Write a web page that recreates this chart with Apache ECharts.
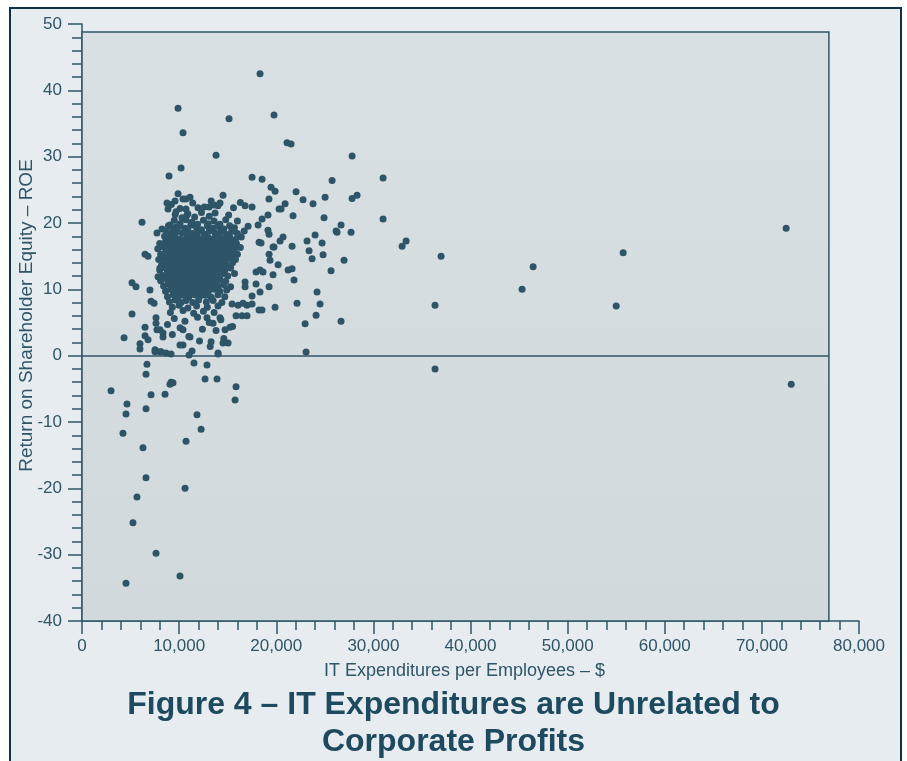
<!DOCTYPE html>
<html>
<head>
<meta charset="utf-8">
<script src="https://cdn.jsdelivr.net/npm/echarts@6/dist/echarts.min.js"></script>
<style>
  html, body { margin: 0; padding: 0; background: #ffffff; }
  #frame { position: absolute; left: 9px; top: 7px; width: 893px; height: 800px; box-sizing: border-box;
           border: 2.5px solid #0e3346; background: #e6ecef; }
  #chart { position: absolute; left: 0; top: 0; width: 907px; height: 761px; }
</style>
</head>
<body>
<div id="frame"></div>
<div id="chart"></div>
<script>
// ---------------- DATA (IT expenditure per employee $, ROE %) ----------------
const titleText = 'Figure 4 \u2013 IT Expenditures are Unrelated to\nCorporate Profits';
const xAxisName = 'IT Expenditures per Employees \u2013 $';
const yAxisName = 'Return on Shareholder Equity \u2013 ROE';
const xRange = [0, 80000, 10000];
const yRange = [-40, 50, 10];
const panelExtent = [[0, -40], [76900, 48.8]];

const upperPoints = [
  [18330,42.5],[9890,37.3],[15140,35.7],[19770,36.3],[10400,33.6],[21110,32.1],[21520,31.9],
  [13800,30.2],[10200,28.3],[8960,27.1],[17510,26.9],[18540,26.6],[19460,25.4],[19880,24.8],
  [22040,24.7],[19250,23.6],[25750,26.4],[27810,30.1]
];

const topClusterPoints = [
  [9200,22.8],[10100,22.2],[11400,23.0],[12600,22.4],[13300,23.3],[14000,22.6],[15600,22.3],
  [16300,23.1],[10700,23.6],[8750,23.0],[9580,23.3],[10400,23.6],[11120,23.9],[9890,24.4],
  [14520,24.2],[11950,22.3],[13080,22.4],[13590,22.7],[14210,23.0],[16790,22.6],[17510,22.4],
  [8860,22.1],[9680,21.7],[10810,21.2],[10710,22.1],[9060,19.7],[9680,19.4],[7720,18.5],
  [8240,19.1],[11430,19.7],[6180,20.1]
];

const clusterPoints = [
  [9600,21.3],[10300,20.8],[10900,21.4],[11600,20.9],[12300,21.6],[13100,21.0],[13700,21.5],[15100,21.2],
  [9500,20.4],[10100,19.9],[10700,20.5],[11300,20.1],[11900,19.8],[12500,20.4],[13000,19.9],[13600,20.3],[14200,19.8],[14800,20.5],[16000,20.3],
  [8900,19.6],[9400,19.1],[10000,19.5],[10600,19.2],[11200,19.7],[11800,19.3],[12300,19.0],[12900,19.6],[13500,19.2],[14000,19.5],[14600,19.1],[15200,19.6],[15700,19.3],[17100,19.5],
  [8700,18.8],[9200,18.3],[9800,18.7],[10300,18.5],[10900,18.9],[11400,18.4],[12000,18.7],[12600,18.3],[13100,18.8],[13700,18.5],[14300,18.8],[14800,18.3],[15400,18.7],[16000,18.4],[16700,18.8],
  [8500,18.0],[9100,17.6],[9600,17.9],[10200,17.5],[10800,18.0],[11300,17.7],[11900,17.9],[12400,17.5],[13000,17.8],[13500,17.6],[14100,18.0],[14700,17.7],[15200,17.9],[15800,17.5],[16400,17.9],
  [8000,16.9],[8600,17.2],[9100,16.8],[9700,17.1],[10300,16.8],[10800,17.2],[11400,16.9],[11900,17.1],[12500,16.8],[13100,17.2],[13600,16.9],[14200,17.1],[14800,16.8],[15300,17.2],[15900,16.9],
  [7800,16.1],[8400,16.4],[8900,16.0],[9500,16.3],[10100,16.0],[10600,16.4],[11200,16.1],[11700,16.3],[12300,16.0],[12800,16.4],[13400,16.1],[14000,16.3],[14500,16.0],[15100,16.4],[15700,16.1],[16300,16.3],
  [8100,15.3],[8600,15.6],[9200,15.2],[9800,15.5],[10300,15.2],[10900,15.6],[11500,15.3],[12000,15.5],[12600,15.2],[13100,15.6],[13700,15.3],[14300,15.5],[14800,15.2],[15400,15.6],[16000,15.3],
  [7900,14.5],[8500,14.8],[9000,14.4],[9600,14.7],[10200,14.4],[10700,14.8],[11300,14.5],[11800,14.7],[12400,14.4],[12900,14.8],[13500,14.5],[14100,14.7],[14600,14.4],[15200,14.8],[15800,14.5],
  [8200,13.7],[8700,14.0],[9300,13.6],[9900,13.9],[10400,13.6],[11000,14.0],[11500,13.7],[12100,13.9],[12700,13.6],[13200,14.0],[13800,13.7],[14400,13.9],[14900,13.6],[15500,14.0],
  [8000,12.9],[8600,13.2],[9100,12.8],[9700,13.1],[10200,12.8],[10800,13.2],[11300,12.9],[11900,13.1],[12400,12.8],[13000,13.2],[13600,12.9],[14100,13.1],[14700,12.8],[15300,13.2],
  [8300,12.1],[8800,12.4],[9400,12.0],[10000,12.3],[10500,12.0],[11100,12.4],[11600,12.1],[12200,12.3],[12700,12.0],[13300,12.4],[13900,12.1],[14400,12.3],[15000,12.0],[15700,12.4],
  [8100,11.3],[8700,11.6],[9200,11.2],[9800,11.5],[10300,11.2],[10900,11.6],[11400,11.3],[12000,11.5],[12500,11.2],[13100,11.6],[13700,11.3],[14200,11.5],[14800,11.2],
  [8400,10.5],[9000,10.8],[9500,10.4],[10100,10.7],[10600,10.4],[11200,10.8],[11700,10.5],[12300,10.7],[12800,10.4],[13400,10.8],[14000,10.5],[14600,10.7],[15300,10.4],
  [8600,9.7],[9100,10.0],[9700,9.6],[10200,9.9],[10800,9.6],[11300,10.0],[11900,9.7],[12400,9.9],[13000,9.6],[13600,10.0],[14200,9.7],[14900,9.9],
  [8800,8.9],[9400,9.2],[9900,8.8],[10500,9.1],[11000,8.8],[11600,9.2],[12100,8.9],[12700,9.1],[13300,8.8],[14000,9.2],[14700,8.9],
  [9000,8.1],[9600,8.4],[10200,8.0],[10700,8.3],[11400,8.0],[12000,8.4],[12800,8.1],[13500,8.3],[14400,8.0],
  [9300,7.3],[10000,7.6],[10900,7.2],[11800,7.5],[12900,7.3],[14000,7.5],
  [9100,6.5],[10400,6.8],[11500,6.4],[12500,6.7],[13600,6.5],
  [8030,13.2],[7830,11.9]
];

const coreFillPoints = [
  [9400,17.3],[10000,17.5],[10500,17.2],[11100,17.6],[11600,17.4],[12200,17.2],[12700,17.5],[13300,17.3],[13900,17.6],[14500,17.2],[15000,17.4],
  [8700,16.6],[9300,16.8],[9800,16.5],[10400,16.7],[10900,16.4],[11500,16.8],[12000,16.6],[12600,16.4],[13100,16.7],[13700,16.5],[14300,16.8],[14900,16.5],[15500,16.7],
  [8900,15.9],[9500,15.7],[10000,16.0],[10600,15.8],[11200,15.6],[11700,15.9],[12300,15.7],[12800,16.0],[13400,15.8],[14000,15.6],[14600,15.9],[15100,15.7],
  [8800,15.0],[9300,14.9],[9900,15.1],[10500,14.9],[11000,15.2],[11600,15.0],[12100,14.8],[12700,15.1],[13200,14.9],[13800,15.2],[14400,15.0],[15000,14.9],[15500,15.1],
  [8600,14.2],[9200,14.1],[9700,14.3],[10300,14.1],[10800,14.3],[11400,14.2],[11900,14.0],[12500,14.3],[13000,14.1],[13600,14.2],[14200,14.0],[14800,14.3],
  [8900,13.4],[9400,13.3],[10000,13.5],[10600,13.3],[11100,13.5],[11700,13.4],[12200,13.2],[12800,13.5],[13400,13.3],[13900,13.5],[14500,13.4],
  [8800,12.6],[9300,12.5],[9900,12.7],[10400,12.5],[11000,12.7],[11500,12.6],[12100,12.4],[12600,12.7],[13200,12.5],[13800,12.7],[14400,12.6],
  [9000,11.8],[9500,11.9],[10100,11.7],[10600,11.9],[11200,11.8],[11700,11.6],[12300,11.9],[12800,11.7],[13400,11.9],[14000,11.8],
  [8900,11.0],[9400,10.9],[10000,11.1],[10500,10.9],[11100,11.1],[11600,11.0],[12200,10.8],[12700,11.1],[13300,10.9],
  [9300,10.2],[9800,10.3],[10400,10.1],[10900,10.3],[11500,10.2],[12000,10.0],[12600,10.3],[13200,10.1],
  [9500,9.4],[10100,9.5],[10600,9.3],[11200,9.5],[11800,9.4],[12400,9.3]
];

const lowerPoints = [
  [9500,5.6],[10600,5.2],[11900,5.8],[13100,5.0],[14300,5.4],[8800,4.7],[10100,4.2],[12400,4.0],
  [13800,3.8],[9300,3.2],[11000,2.9],[12100,2.2],[14600,2.6],[10400,1.6],[13200,1.4],[15500,4.4],
  [12870,5.7],[13490,4.9],[14210,5.7],[14730,3.9],[13290,2.1],[14520,1.9],[15040,1.9],[14010,0.4],
  [10400,3.9],[11120,2.8],[10090,1.6],[15240,4.3],[6490,4.3],[7620,4.9],[8340,2.8],[8030,3.9],
  [6490,15.3],[6800,15.0],[5150,11.0],[5560,10.4],[7000,9.9],[7110,8.2],[7420,7.9],[7620,5.7],
  [5150,6.3],[4330,2.7],[5970,1.8],[5970,1.0],[6490,3.0],[6800,2.4],[7520,0.9],[8140,0.6],
  [8650,0.4],[7720,3.9],[8340,3.4],[9170,0.25],[11020,0.1],[11330,0.7]
];

const rightPoints = [
  [16990,7.6],[17510,7.8],[15860,6.0],[16480,6.0],[16990,6.0],[15450,7.8],[16070,7.6],[16580,7.9],
  [18330,12.9],[18640,12.6],[17920,12.6],[16790,11.1],[16790,10.4],[18430,17.0],[18230,17.1],
  [19770,16.4],[19260,18.3],[19150,18.9],[18540,20.6],[18130,19.7],[19150,21.2],[18330,9.6],
  [17920,10.8],[17510,9.0],[18230,6.9],[18530,6.9],[19880,7.3],[20190,13.7],[19670,16.4],
  [19260,15.3],[19360,14.4],[19670,12.2],[19260,10.4],[20700,17.9],[20390,17.3],[21220,12.9],
  [21630,13.1],[21830,11.4],[21630,16.5],[20290,22.1],[20490,22.1],[21730,21.1],[20910,22.9],
  [22760,23.5],[23790,22.9],[25030,23.9],[27810,23.7],[28320,24.2],[24920,20.8],[26670,19.7],
  [26160,18.8],[26260,18.6],[27700,18.6],[24000,18.2],[23170,17.3],[24720,17.0],[23380,15.8],
  [24820,15.2],[23690,14.6],[26980,14.4],[25640,12.8],[24200,9.6],[24510,7.8],[22140,7.9],
  [24100,6.1],[22970,4.8],[26670,5.2],[23070,0.55],
  [31000,26.8],[31000,20.6],[33370,17.3],[32960,16.5],[36970,15.0],[36350,7.6],[36350,-2.0],
  [46450,13.4],[45310,10.0],[55720,15.5],[55000,7.5],[72500,19.2],[73020,-4.3]
];

const negativePoints = [
  [6690,-1.3],[6590,-2.8],[9170,-4.0],[9370,-4.1],[9060,-4.3],[2990,-5.3],[12670,-3.5],[13900,-3.5],
  [15860,-4.7],[15760,-6.7],[7110,-5.9],[8550,-5.8],[4630,-7.3],[4530,-8.8],[6590,-8.0],[11840,-8.9],
  [12260,-11.1],[4220,-11.7],[10710,-12.9],[6280,-13.9],[6590,-18.4],[10610,-20.0],[5660,-21.3],
  [5250,-25.2],[7620,-29.8],[10090,-33.2],[4530,-34.3],[11530,-1.1],[12870,-1.4],[14010,0.25],
  [7520,0.6],[8030,0.6]
];

const allPoints = [].concat(upperPoints, topClusterPoints, clusterPoints, coreFillPoints,
  lowerPoints, rightPoints, negativePoints);

// ---------------- STYLE ----------------
const ink = '#2d5567';
const axisInk = '#2f5567';
const font = '"Liberation Sans", Arial, sans-serif';

const chart = echarts.init(document.getElementById('chart'), null, { renderer: 'canvas' });
chart.setOption({
  animation: false,
  title: {
    text: titleText,
    left: 'center',
    top: 682,
    textStyle: { fontFamily: font, fontSize: 32, fontWeight: 'bold', color: '#1d4a5f', lineHeight: 37 }
  },
  grid: { left: 82, right: 48, top: 24, bottom: 140 },
  xAxis: {
    type: 'value', min: xRange[0], max: xRange[1], interval: xRange[2],
    name: xAxisName, nameLocation: 'middle', nameGap: 41, nameMoveOverlap: false,
    nameTextStyle: { fontFamily: font, fontSize: 18, color: axisInk, padding: [0, 12, 0, 0] },
    axisLine: { show: true, onZero: false, lineStyle: { color: axisInk, width: 1.5 } },
    axisTick: { show: true, inside: false, length: 13, lineStyle: { color: axisInk, width: 1.5 } },
    minorTick: { show: true, splitNumber: 5, length: 9, lineStyle: { color: axisInk, width: 1.5 } },
    splitLine: { show: false },
    axisLabel: { margin: 17, fontFamily: font, fontSize: 17, color: axisInk,
      formatter: v => v.toLocaleString('en-US') }
  },
  yAxis: {
    type: 'value', min: yRange[0], max: yRange[1], interval: yRange[2],
    name: yAxisName, nameLocation: 'middle', nameGap: 46, nameRotate: 90, nameMoveOverlap: false,
    nameTextStyle: { fontFamily: font, fontSize: 19, color: axisInk, padding: [0, 0, 0, 14] },
    axisLine: { show: true, onZero: false, lineStyle: { color: axisInk, width: 1.5 } },
    axisTick: { show: true, inside: false, length: 14, lineStyle: { color: axisInk, width: 1.5 } },
    minorTick: { show: true, splitNumber: 5, length: 10, lineStyle: { color: axisInk, width: 1.5 } },
    splitLine: { show: false },
    axisLabel: { margin: 20, fontFamily: font, fontSize: 17, color: axisInk }
  },
  series: [{
    type: 'scatter',
    data: allPoints,
    symbolSize: 7,
    itemStyle: { color: ink, opacity: 1 },
    markArea: {
      silent: true,
      itemStyle: {
        color: new echarts.graphic.LinearGradient(0, 0, 0, 1, [
          { offset: 0, color: '#d9e0e3' }, { offset: 1, color: '#d1d9dd' }
        ]),
        borderColor: axisInk, borderWidth: 1.5
      },
      data: [[{ coord: panelExtent[0] }, { coord: panelExtent[1] }]]
    },
    markLine: {
      silent: true, symbol: 'none', label: { show: false },
      lineStyle: { color: axisInk, width: 1.5, type: 'solid' },
      data: [[{ coord: [panelExtent[0][0], 0] }, { coord: [panelExtent[1][0], 0] }]]
    }
  }]
});
</script>
</body>
</html>
